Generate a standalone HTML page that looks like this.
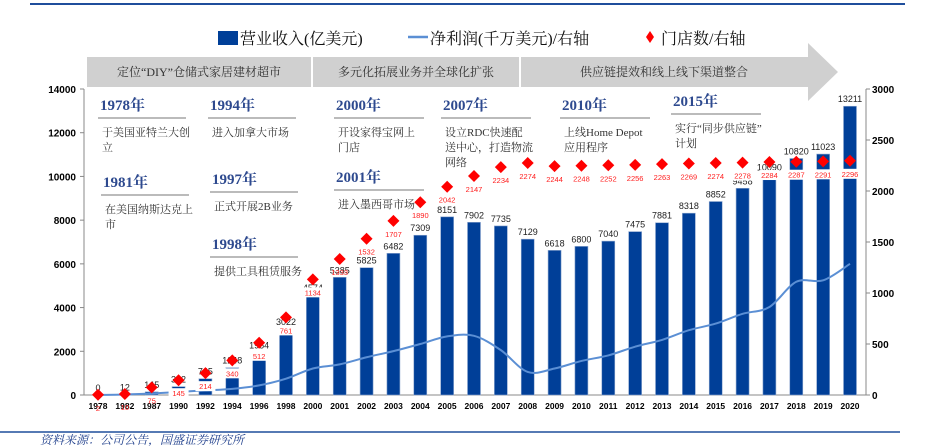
<!DOCTYPE html>
<html><head><meta charset="utf-8">
<style>
body{margin:0;background:#fff;width:928px;height:446px;overflow:hidden;font-family:"Liberation Serif","Noto Serif CJK SC",serif;}
svg{display:block}
</style></head>
<body>
<svg id="chart" width="928" height="446" xmlns="http://www.w3.org/2000/svg">
<line x1="30" y1="4" x2="905" y2="4" stroke="#1f4e9c" stroke-width="2"/>
<line x1="0" y1="432" x2="900" y2="432" stroke="#1f4e9c" stroke-width="1.5"/>
<text x="40" y="444" font-size="12" font-style="italic" fill="#1f3f8c" font-family="Liberation Serif,Noto Serif CJK SC,serif">资料来源：公司公告，国盛证券研究所</text>
<g font-size="16" fill="#111" font-family="Liberation Serif,Noto Serif CJK SC,serif">
<rect x="218" y="31" width="20" height="14" fill="#003f98"/>
<text x="240" y="44">营业收入(亿美元)</text>
<line x1="408" y1="37" x2="428" y2="37" stroke="#5b8fd4" stroke-width="2.5"/>
<text x="430" y="44">净利润(千万美元)/右轴</text>
<path d="M650 31 L654 37 L650 43 L646 37 Z" fill="#ff0000"/>
<text x="661" y="44">门店数/右轴</text>
</g>
<g>
<path d="M87 57 L808 57 L808 43 L838 72 L808 101 L808 87 L87 87 Z" fill="#d0d0d0"/>
<line x1="312" y1="57" x2="312" y2="87" stroke="#fff" stroke-width="2"/>
<line x1="520" y1="57" x2="520" y2="87" stroke="#fff" stroke-width="2"/>
<text x="199" y="76" font-size="12" text-anchor="middle" fill="#333">定位“DIY”仓储式家居建材超市</text>
<text x="416" y="76" font-size="12" text-anchor="middle" fill="#333">多元化拓展业务并全球化扩张</text>
<text x="664" y="76" font-size="12" text-anchor="middle" fill="#333">供应链提效和线上线下渠道整合</text>
</g>
<g id="annots" font-family="Liberation Serif,Noto Serif CJK SC,serif"></g>
<g id="plot"></g>
</svg>
<script>
const categories=["1978","1982","1987","1990","1992","1994","1996","1998","2000","2001","2002","2003","2004","2005","2006","2007","2008","2009","2010","2011","2012","2013","2014","2015","2016","2017","2018","2019","2020"];
const revenue=[0,12,145,382,745,1248,1954,3022,4574,5385,5825,6482,7309,8151,7902,7735,7129,6618,6800,7040,7475,7881,8318,8852,9458,10090,10820,11023,13211];
const stores=[2,10,75,145,214,340,512,761,1134,1333,1532,1707,1890,2042,2147,2234,2274,2244,2248,2252,2256,2263,2269,2274,2278,2284,2287,2291,2296];
const profit=[0,5,15,30,45,60,94,160,260,300,370,430,500,575,580,440,226,260,334,388,474,540,635,700,796,863,1110,1124,1286];
const leftTicks=[0,2000,4000,6000,8000,10000,12000,14000];
const rightTicks=[0,500,1000,1500,2000,2500,3000];

const NS="http://www.w3.org/2000/svg";
const plot=document.getElementById('plot');
const X0=98,X1=850,Y0=395,Y1=89;
const xs=i=>X0+i*(X1-X0)/(categories.length-1);
const yL=v=>Y0-v/14000*(Y0-Y1);
const yR=v=>Y0-v/3000*(Y0-Y1);
function mk(tag,attrs,parent){const e=document.createElementNS(NS,tag);for(const k in attrs)e.setAttribute(k,attrs[k]);(parent||plot).appendChild(e);return e;}

let la=mk('line',{x1:84,y1:Y1,x2:84,y2:Y0,stroke:'#888'});


let ra=mk('line',{x1:866,y1:Y1,x2:866,y2:Y0,stroke:'#888'});


let xa=mk('line',{x1:84,y1:Y0,x2:866,y2:Y0,stroke:'#888'});


leftTicks.forEach(v=>{
  mk('line',{x1:80,y1:yL(v),x2:84,y2:yL(v),stroke:'#888'});
  const t=mk('text',{x:76,y:yL(v)+4,'font-size':10,'font-weight':'bold','text-anchor':'end','font-family':'Liberation Sans,sans-serif'});
  t.textContent=v;
  
  
});
rightTicks.forEach(v=>{
  mk('line',{x1:866,y1:yR(v),x2:870,y2:yR(v),stroke:'#888'});
  const t=mk('text',{x:872,y:yR(v)+4,'font-size':10,'font-weight':'bold','font-family':'Liberation Sans,sans-serif'});
  t.textContent=v;
  
  
});
categories.forEach((c,i)=>{
  const t=mk('text',{x:xs(i),y:Y0+14,'font-size':8.5,'font-weight':'bold','text-anchor':'middle','font-family':'Liberation Sans,sans-serif'});
  t.textContent=c;
  
  
});
revenue.forEach((v,i)=>{
  const b=mk('rect',{x:xs(i)-6.5,y:yL(v),width:13,height:Y0-yL(v),fill:'#003f98',stroke:'#8fa8d0','stroke-width':0.6});
  
  
  const t=mk('text',{x:xs(i),y:yL(v)-4,'font-size':9,'text-anchor':'middle',fill:'#222','font-family':'Liberation Sans,sans-serif'});
  t.textContent=v;
  
  
});
const pts=profit.map((v,i)=>[xs(i),yR(v)]);
let d=`M${pts[0][0]},${pts[0][1]}`;
for(let i=0;i<pts.length-1;i++){
  const p0=pts[i-1]||pts[i],p1=pts[i],p2=pts[i+1],p3=pts[i+2]||p2;
  const c1=[p1[0]+(p2[0]-p0[0])/6,p1[1]+(p2[1]-p0[1])/6],c2=[p2[0]-(p3[0]-p1[0])/6,p2[1]-(p3[1]-p1[1])/6];
  d+=` C${c1[0]},${c1[1]} ${c2[0]},${c2[1]} ${p2[0]},${p2[1]}`;
}
const pl=mk('path',{d:d,fill:'none',stroke:'#5b8fd4','stroke-width':2});


stores.forEach((v,i)=>{
  const x=xs(i),y=yR(v);
  const m=mk('path',{d:`M${x} ${y-6} L${x+6} ${y} L${x} ${y+6} L${x-6} ${y} Z`,fill:'#ff0000'});
  
  
  if(i>=3 && (i<=8 || i>=24)) mk('rect',{x:x-10,y:y+8,width:20,height:10,fill:'#fff'});
  const t=mk('text',{x:x,y:y+16,'font-size':7.5,'text-anchor':'middle',fill:'#ff2020','font-family':'Liberation Sans,sans-serif'});
  t.textContent=v;
  
  
});
const ann=document.getElementById('annots');
const notes=[
 ["1978年",100,110,88,["于美国亚特兰大创","立"]],
 ["1981年",103,187,88,["在美国纳斯达克上","市"]],
 ["1994年",210,110,88,["进入加拿大市场"]],
 ["1997年",212,184,88,["正式开展2B业务"]],
 ["1998年",212,249,88,["提供工具租赁服务"]],
 ["2000年",336,110,90,["开设家得宝网上","门店"]],
 ["2001年",336,182,90,["进入墨西哥市场"]],
 ["2007年",443,110,90,["设立RDC快速配","送中心，打造物流","网络"]],
 ["2010年",562,110,90,["上线Home Depot","应用程序"]],
 ["2015年",673,106,90,["实行“同步供应链”","计划"]]
];
notes.forEach(n=>{
  const h=mk('text',{x:n[1],y:n[2],'font-size':15,'font-weight':'bold',fill:'#2e4a8f'},ann);
  h.textContent=n[0];
  
  
  mk('line',{x1:n[1]-2,y1:n[2]+8,x2:n[1]-2+n[3],y2:n[2]+8,stroke:'#777','stroke-width':1},ann);
  n[4].forEach((s,j)=>{
    const t=mk('text',{x:n[1]+2,y:n[2]+26+j*15,'font-size':11,fill:'#333'},ann);
    t.textContent=s;
    
    
  });
});
</script>
</body></html>
